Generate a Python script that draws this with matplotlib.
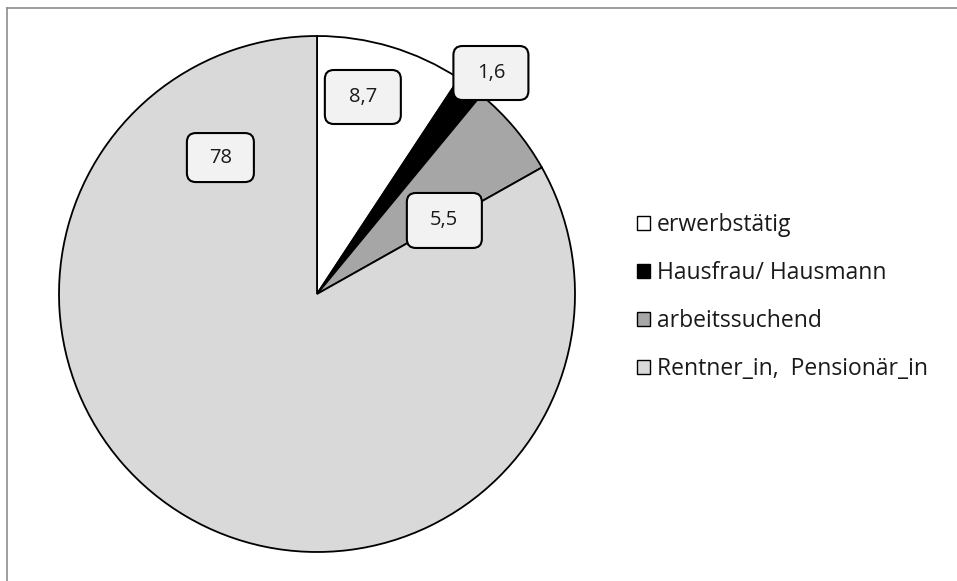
import numpy as np
import matplotlib.pyplot as plt
from matplotlib.lines import Line2D
from matplotlib.patches import FancyBboxPatch

# data
categories = ['erwerbstätig', 'Hausfrau/ Hausmann', 'arbeitssuchend', 'Rentner_in,  Pensionär_in']
values = [8.7, 1.6, 5.5, 78]
value_labels = ['8,7', '1,6', '5,5', '78']

# styling
colors = ['white', 'black', '#a6a6a6', '#d9d9d9']
# label placement: (radius fraction, angle in degrees clockwise from top)
label_pos = [(0.784, 13.1), (1.09, 38.2), (0.57, 60.0), (0.648, -35.3)]
# label box sizes in pixels
box_sizes = [(76, 54), (75, 54), (75, 55), (67, 49)]
FONT = 'Open Sans'

W, H = 957, 581
fig = plt.figure(figsize=(W / 100, H / 100), dpi=100)
ax = fig.add_axes([0, 0, 1, 1])

cx, cy, r = 317, H - 294, 258

wedges, _ = ax.pie(
    values,
    colors=colors,
    startangle=90,
    counterclock=False,
    center=(cx, cy),
    radius=r,
    frame=True,
    wedgeprops={'edgecolor': 'black', 'linewidth': 1.3},
)
ax.set_xlim(0, W)
ax.set_ylim(0, H)
ax.set_aspect('equal')
ax.axis('off')

# data labels
for lab, (rf, ang), (bw, bh) in zip(value_labels, label_pos, box_sizes):
    a = np.deg2rad(ang)
    x = cx + rf * r * np.sin(a)
    y = cy + rf * r * np.cos(a)
    ax.add_patch(FancyBboxPatch(
        (x - bw / 2, y - bh / 2), bw, bh,
        boxstyle='round,pad=0,rounding_size=9',
        facecolor='#f2f2f2', edgecolor='black', linewidth=1.5, zorder=3,
    ))
    ax.text(x, y, lab, ha='center', va='center', fontsize=14.5,
            family=FONT, color='#1a1a1a', zorder=4)

# legend
handles = [plt.Rectangle((0, 0), 1, 1, facecolor=c, edgecolor='black', linewidth=1.0)
           for c in colors]
leg = fig.legend(
    handles, categories,
    loc='center left',
    bbox_to_anchor=(637 / W, 1 - 297 / H),
    frameon=False,
    prop={'family': FONT, 'size': 16.5},
    handlelength=0.58,
    handleheight=0.58,
    handletextpad=0.3,
    labelspacing=1.04,
    borderaxespad=0,
    borderpad=0,
)
for t in leg.get_texts():
    t.set_color('#1a1a1a')

# chart area border (top and left visible)
fig.add_artist(Line2D([7.5 / W, 7.5 / W], [0, 1 - 7.5 / H], transform=fig.transFigure,
                      color='#8c8c8c', linewidth=1.2))
fig.add_artist(Line2D([7.5 / W, 1], [1 - 7.5 / H, 1 - 7.5 / H], transform=fig.transFigure,
                      color='#8c8c8c', linewidth=1.2))

fig.savefig('out.png', dpi=100)
